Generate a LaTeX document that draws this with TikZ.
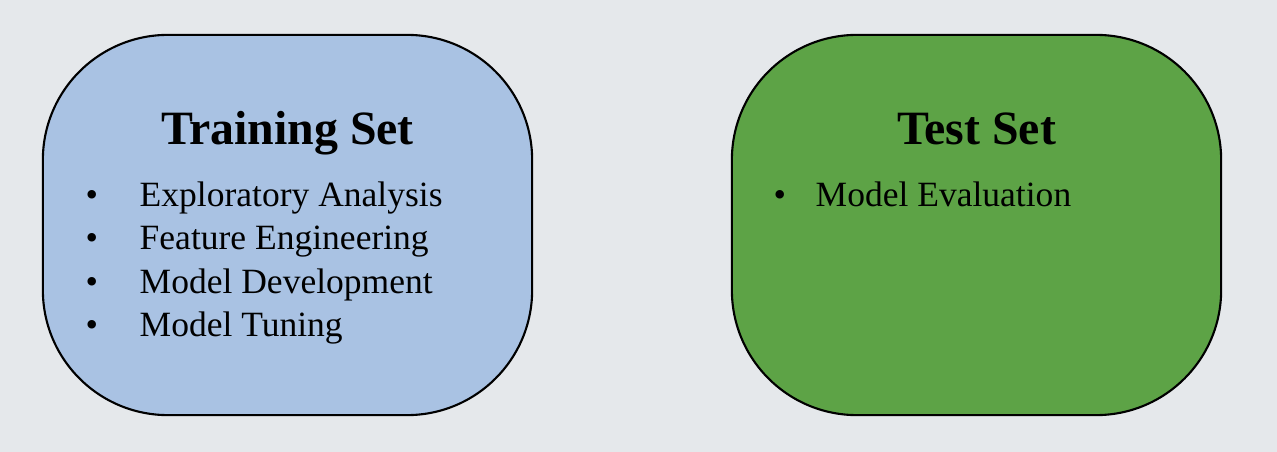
\documentclass[tikz,border=0pt]{standalone}
\usepackage{fontspec}
\setmainfont{Liberation Serif}
\usetikzlibrary{positioning}
\definecolor{paper}{HTML}{E5E8EB}
\definecolor{trainfill}{HTML}{A9C2E3}
\definecolor{testfill}{HTML}{5DA346}

\begin{document}
\begin{tikzpicture}[x=0.01cm, y=-0.01cm, font=\fontsize{10.1}{12}\selectfont,
  setbox/.style={draw=black, line width=0.6pt, rounded corners=1.25cm, minimum width=4.89cm, minimum height=3.8cm, inner sep=0pt},
  settitle/.style={anchor=base, font=\fontsize{13.6}{16}\selectfont\bfseries, inner sep=0pt},
  item/.style={anchor=base west, inner sep=0pt}
]
  \fill[paper] (0,0) rectangle (1277,452);
  \useasboundingbox (0,0) rectangle (1277,452);
  \node[setbox, fill=trainfill] (train) at (287.5,225) {};
  \node[setbox, fill=testfill] (test) at (976.5,225) {};
  \node[settitle] (traintitle) at (287.5,145) {Training Set};
  \node[settitle] (testtitle) at (976.5,145) {Test Set};
  \foreach \t [count=\i from 0] in {Exploratory Analysis, Feature Engineering, Model Development, Model Tuning}
    \node[item] (train\i) at (85,207+43*\i) {\makebox[0.54cm][l]{\textbullet}\t};
  \node[item] (test0) at (773,207) {\makebox[0.42cm][l]{\textbullet}Model Evaluation};
\end{tikzpicture}
\end{document}
